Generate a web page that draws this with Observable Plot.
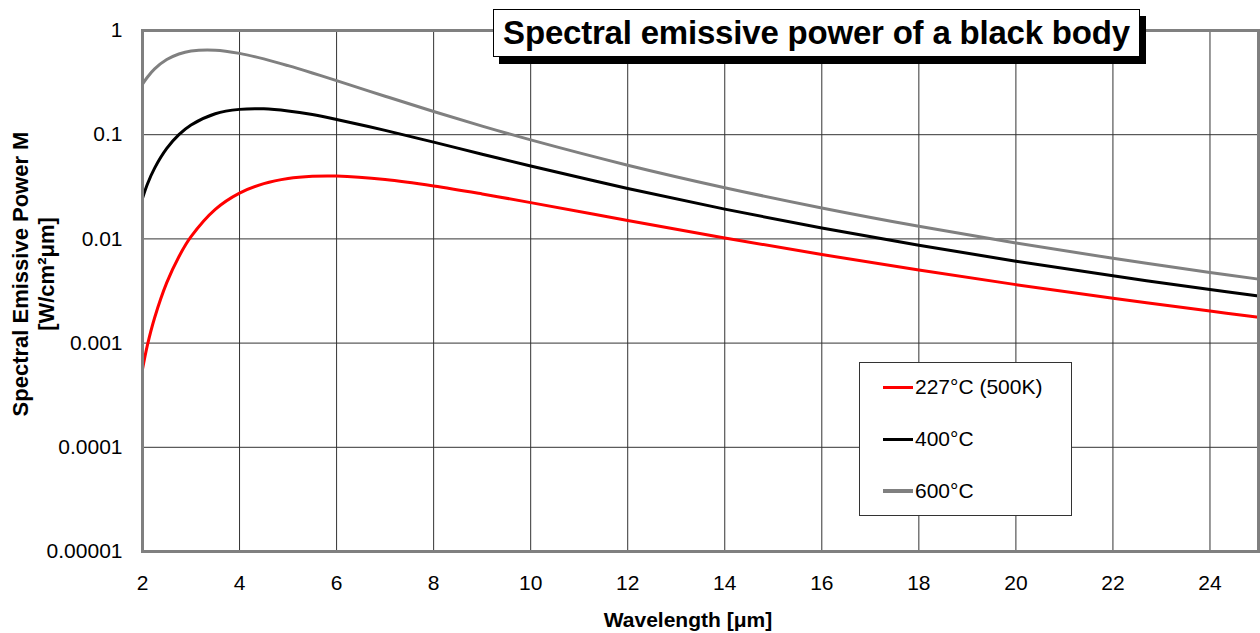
<!DOCTYPE html>
<html>
<head>
<meta charset="utf-8">
<script src="https://cdn.jsdelivr.net/npm/d3@7"></script>
<script src="https://cdn.jsdelivr.net/npm/@observablehq/plot@0.6"></script>
<style>
  html, body { margin: 0; padding: 0; background: #fff; }
  body { font-family: "Liberation Sans", Arial, sans-serif; color: #000; }
  #wrap { position: relative; width: 1260px; height: 633px; overflow: hidden; }
  #title {
    position: absolute; left: 493px; top: 9px; width: 645px; height: 46px;
    border: 1px solid #000; background: #fff; box-shadow: 6px 7px 0 #000;
    font-weight: bold; font-size: 33px; line-height: 46px; text-align: center;
    letter-spacing: -0.2px; white-space: nowrap;
  }
  #legend {
    position: absolute; left: 859px; top: 362px; width: 211px; height: 152px;
    border: 1px solid #333; background: #fff;
  }
  .item { position: absolute; left: 23px; height: 24px; display: flex; align-items: center; font-size: 21px; white-space: nowrap; }
  .swatch { display: inline-block; width: 30px; height: 3px; margin-right: 2px; }
</style>
</head>
<body>
<div id="wrap"></div>
<script>
// ---- data ----
const seriesNames = ["227°C (500K)", "400°C", "600°C"];
const seriesColors = ["#ff0000", "#000000", "#808080"];

const wavelengths = [2, 2.1, 2.25, 2.5, 2.75, 3, 3.5, 4, 4.5, 5, 5.5, 6, 7, 8, 9, 10, 12, 14, 16, 18, 20, 22, 24, 25];

const m227 = [0.00056, 0.00095, 0.00175, 0.00380, 0.00675, 0.0105, 0.0192, 0.0275, 0.0339, 0.0380, 0.0399, 0.0401,
              0.0371, 0.0322, 0.0270, 0.0223, 0.0150, 0.0102, 0.00708, 0.00502, 0.00364, 0.00269, 0.00203, 0.00177];
const m400 = [0.0245, 0.0335, 0.0478, 0.0738, 0.100, 0.124, 0.159, 0.175, 0.177, 0.169, 0.156, 0.140,
              0.110, 0.0848, 0.0650, 0.0500, 0.0305, 0.0193, 0.0127, 0.00869, 0.00611, 0.00442, 0.00327, 0.00283];
const m600 = [0.305, 0.356, 0.428, 0.526, 0.595, 0.636, 0.648, 0.603, 0.534, 0.460, 0.391, 0.330,
              0.234, 0.167, 0.121, 0.0892, 0.0510, 0.0310, 0.0198, 0.0132, 0.00914, 0.00651, 0.00476, 0.00411];

const xTicks = [2, 4, 6, 8, 10, 12, 14, 16, 18, 20, 22, 24];
const xGrid = [4, 6, 8, 10, 12, 14, 16, 18, 20, 22, 24];
const yTicks = [1, 0.1, 0.01, 0.001, 0.0001, 0.00001];
const yTickLabels = ["1", "0.1", "0.01", "0.001", "0.0001", "0.00001"];

const title = "Spectral emissive power of a black body";
const xLabel = "Wavelength [μm]";
const yLabel1 = "Spectral Emissive Power M";
const yLabel2 = "[W/cm²μm]";

// ---- build table ----
const allSeries = [m227, m400, m600];
const data = [];
allSeries.forEach((vals, s) => {
  wavelengths.forEach((w, i) => data.push({ w, v: vals[i], s: seriesNames[s] }));
});

const font = '"Liberation Sans", Arial, sans-serif';

const chart = Plot.plot({
  width: 1260,
  height: 633,
  marginLeft: 142,
  marginRight: 2,
  marginTop: 30,
  marginBottom: 82,
  style: { fontFamily: font, fontSize: "21px", color: "#000", background: "transparent" },
  x: { domain: [2, 25], ticks: xTicks },
  y: { type: "log", domain: [0.00001, 1], ticks: yTicks },
  color: { domain: seriesNames, range: seriesColors },
  marks: [
    Plot.gridX(xGrid, { stroke: "#333", strokeOpacity: 1, strokeWidth: 1 }),
    Plot.gridY(yTicks, { stroke: "#333", strokeOpacity: 1, strokeWidth: 1 }),
    Plot.line(data, { x: "w", y: "v", z: "s", stroke: "s", strokeWidth: 3, curve: "catmull-rom" }),
    Plot.frame({ stroke: "#808080", strokeWidth: 3 }),
    Plot.axisX(xTicks, { tickSize: 0, tickPadding: 24, label: null, fontSize: 21 }),
    Plot.axisY(yTicks, { tickSize: 0, tickPadding: 20, label: null, fontSize: 21,
      tickFormat: d => yTickLabels[yTicks.indexOf(d)] })
  ]
});

const wrap = document.getElementById("wrap");
wrap.appendChild(chart);

// axis titles as real SVG text
const svg = d3.select(chart);
svg.append("text")
  .attr("x", 688).attr("y", 627)
  .attr("text-anchor", "middle")
  .attr("font-family", font).attr("font-weight", "bold").attr("font-size", 21)
  .text(xLabel);
const yl = svg.append("g").attr("transform", "translate(0,274) rotate(-90)");
yl.append("text")
  .attr("x", 0).attr("y", 28)
  .attr("text-anchor", "middle")
  .attr("font-family", font).attr("font-weight", "bold").attr("font-size", 22)
  .text(yLabel1);
yl.append("text")
  .attr("x", 0).attr("y", 54)
  .attr("text-anchor", "middle")
  .attr("font-family", font).attr("font-weight", "bold").attr("font-size", 22)
  .text(yLabel2);

// title box
const t = document.createElement("div");
t.id = "title";
t.textContent = title;
wrap.appendChild(t);

// legend box
const lg = document.createElement("div");
lg.id = "legend";
const itemTops = [12, 64, 116];
seriesNames.forEach((name, i) => {
  const it = document.createElement("div");
  it.className = "item";
  it.style.top = itemTops[i] + "px";
  const sw = document.createElement("span");
  sw.className = "swatch";
  sw.style.background = seriesColors[i];
  if (i === 2) sw.style.height = "4px";
  it.appendChild(sw);
  it.appendChild(document.createTextNode(name));
  lg.appendChild(it);
});
wrap.appendChild(lg);
</script>
</body>
</html>
